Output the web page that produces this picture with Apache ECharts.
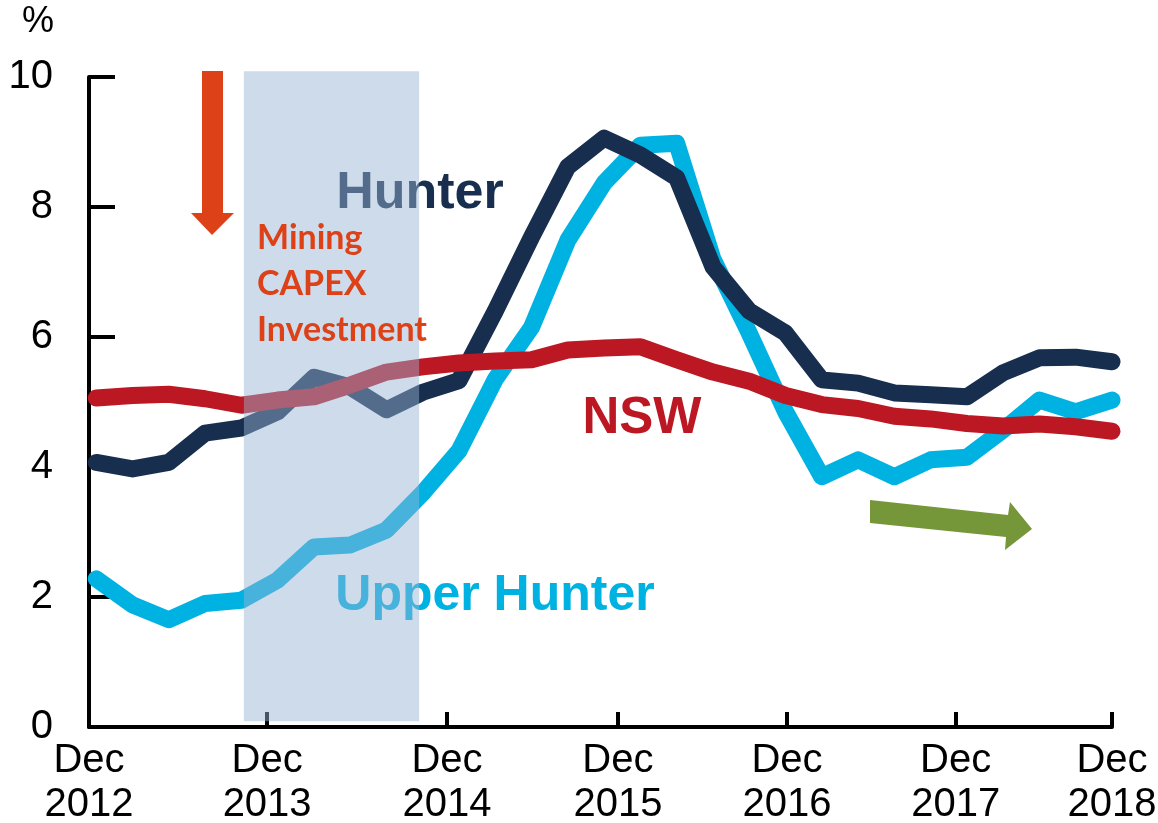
<!DOCTYPE html>
<html>
<head>
<meta charset="utf-8">
<script src="https://cdn.jsdelivr.net/npm/echarts@6/dist/echarts.min.js"></script>
<style>
  html, body { margin: 0; padding: 0; background: #fff; }
  #chart { width: 1158px; height: 823px; }
</style>
</head>
<body>
<div id="chart"></div>
<script>
// period index of each Dec tick on the x axis, and its year label
const decTicks = [-0.2, 4.71, 9.67, 14.38, 19.04, 23.69, 28];
const decYears = ["2012", "2013", "2014", "2015", "2016", "2017", "2018"];

// unemployment rate, %, one value per period (index 0 = Dec 2012)
const upperHunter = [
  2.28, 1.88, 1.65, 1.9, 1.95, 2.26, 2.77, 2.8, 3.03, 3.6,
  4.25, 5.35, 6.15, 7.49, 8.37, 8.95, 8.98, 7.2, 6.06, 4.85,
  3.85, 4.11, 3.85, 4.11, 4.15, 4.57, 5.03, 4.85, 5.03,
];
const hunter = [
  4.07, 3.97, 4.07, 4.52, 4.6, 4.85, 5.38, 5.23, 4.88, 5.15,
  5.33, 6.4, 7.54, 8.62, 9.06, 8.8, 8.45, 7.08, 6.4, 6.06,
  5.34, 5.29, 5.14, 5.11, 5.08, 5.45, 5.68, 5.69, 5.62,
];
const nsw = [
  5.06, 5.1, 5.12, 5.05, 4.95, 5.03, 5.08, 5.26, 5.46, 5.54,
  5.6, 5.63, 5.65, 5.8, 5.83, 5.85, 5.65, 5.46, 5.32, 5.1,
  4.96, 4.9, 4.78, 4.74, 4.67, 4.63, 4.66, 4.62, 4.55,
];

// mining capex period (shaded), in period index / % units
const shadeX = [4.07, 8.9];
const shadeY = [0.09, 10.09];

const chart = echarts.init(document.getElementById("chart"));
const font = "Liberation Sans, Arial, sans-serif";

const toPairs = (arr) => arr.map((v, i) => [i, v]);

const lineSeries = (name, data, color) => ({
  name,
  type: "line",
  data: toPairs(data),
  symbol: "none",
  clip: false,
  lineStyle: { width: 17, color, cap: "round", join: "round" },
});

chart.setOption({
  animation: false,
  grid: { left: 89, right: 46, top: 77, bottom: 96, outerBoundsMode: "none" },
  xAxis: {
    type: "value",
    min: -0.2,
    max: 28,
    splitLine: { show: false },
    axisLine: { onZero: false, lineStyle: { color: "#000", width: 4 } },
    axisTick: {
      show: true,
      inside: true,
      length: 15,
      customValues: decTicks,
      lineStyle: { color: "#000", width: 4 },
    },
    axisLabel: {
      customValues: decTicks,
      margin: 12,
      fontFamily: font,
      fontSize: 40,
      lineHeight: 44,
      color: "#000",
      formatter: (v) => {
        const i = decTicks.findIndex((t) => Math.abs(t - v) < 1e-6);
        return i < 0 ? "" : "Dec\n" + decYears[i];
      },
    },
  },
  yAxis: {
    type: "value",
    min: 0,
    max: 10,
    interval: 2,
    splitLine: { show: false },
    axisLine: { show: true, onZero: false, lineStyle: { color: "#000", width: 4 } },
    axisTick: {
      show: true,
      inside: true,
      length: 26,
      lineStyle: { color: "#000", width: 4 },
    },
    axisLabel: {
      margin: 36,
      fontFamily: font,
      fontSize: 40,
      color: "#000",
    },
  },
  series: [
    lineSeries("Upper Hunter", upperHunter, "#00b2e2"),
    lineSeries("Hunter", hunter, "#172e4f"),
    lineSeries("NSW", nsw, "#bc1823"),
  ],
});

const tl = chart.convertToPixel({ gridIndex: 0 }, [shadeX[0], shadeY[1]]);
const br = chart.convertToPixel({ gridIndex: 0 }, [shadeX[1], shadeY[0]]);

const label = (text, x, y, color, size, z) => ({
  type: "text",
  x,
  y,
  z,
  style: {
    text,
    fill: color,
    font: "bold " + size + "px " + font,
    align: "center",
    verticalAlign: "middle",
  },
});

chart.setOption({
  graphic: {
    elements: [
      {
        type: "text",
        x: 38,
        y: 22,
        style: {
          text: "%",
          fill: "#000",
          font: "36px " + font,
          align: "center",
          verticalAlign: "middle",
        },
      },
      label("Hunter", 420, 194, "#172e4f", 52, 1),
      label("Upper Hunter", 495, 596, "#00b2e2", 50, 1),
      label("NSW", 642, 419, "#bc1823", 51, 1),
      {
        type: "rect",
        z: 100,
        shape: { x: tl[0], y: tl[1], width: br[0] - tl[0], height: br[1] - tl[1] },
        style: { fill: "rgba(151,179,211,0.47)" },
      },
      {
        type: "text",
        x: 257,
        y: 284,
        z: 101,
        style: {
          text: "Mining\nCAPEX\nInvestment",
          fill: "#dc4118",
          font: "bold 34px Lato, sans-serif",
          lineHeight: 46,
          align: "left",
          verticalAlign: "middle",
        },
      },
      {
        type: "polygon",
        z: 101,
        shape: {
          points: [[202, 71], [223, 71], [223, 213], [234, 213], [212, 235], [191, 213], [202, 213]],
        },
        style: { fill: "#dc4118" },
      },
      {
        type: "polygon",
        z: 101,
        shape: {
          points: [[870, 500], [1008, 515], [1010, 502], [1032, 529], [1005, 550], [1006, 537], [870, 523]],
        },
        style: { fill: "#76963a" },
      },
    ],
  },
});
</script>
</body>
</html>
